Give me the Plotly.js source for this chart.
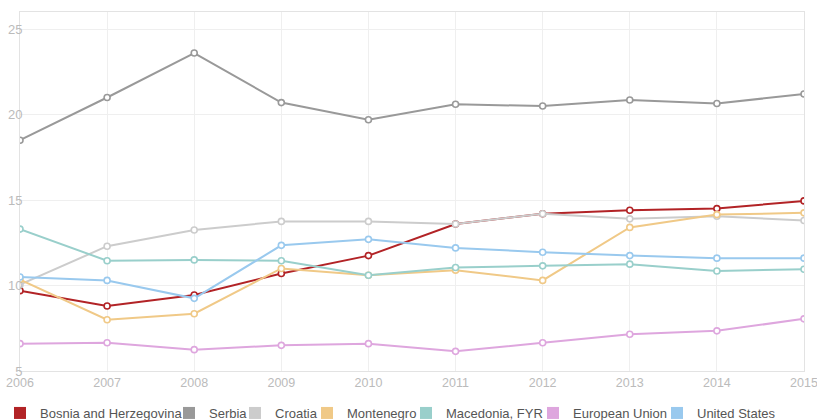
<!DOCTYPE html>
<html>
<head>
<meta charset="utf-8">
<script src="https://cdn.plot.ly/plotly-3.0.1.min.js"></script>
<style>html,body{margin:0;padding:0;background:#fff;}#chart{width:817px;height:420px;}</style>
</head>
<body>
<div id="chart"></div>
<script>
const years = [2006, 2007, 2008, 2009, 2010, 2011, 2012, 2013, 2014, 2015];
const seriesNames = ["Bosnia and Herzegovina", "Serbia", "Croatia", "Montenegro", "Macedonia, FYR", "European Union", "United States"];
const bosnia     = [9.7, 8.8, 9.45, 10.7, 11.75, 13.6, 14.2, 14.4, 14.5, 14.95];
const serbia     = [18.5, 21.0, 23.6, 20.7, 19.7, 20.6, 20.5, 20.85, 20.65, 21.2];
const croatia    = [10.05, 12.3, 13.25, 13.75, 13.75, 13.6, 14.2, 13.9, 14.05, 13.8];
const montenegro = [10.35, 8.0, 8.35, 11.0, 10.6, 10.9, 10.3, 13.4, 14.15, 14.25];
const macedonia  = [13.3, 11.45, 11.5, 11.45, 10.6, 11.05, 11.15, 11.25, 10.85, 10.95];
const eu         = [6.6, 6.65, 6.25, 6.5, 6.6, 6.15, 6.65, 7.15, 7.35, 8.05];
const us         = [10.5, 10.3, 9.25, 12.35, 12.7, 12.2, 11.95, 11.75, 11.6, 11.6];
const yTicks = [5, 10, 15, 20, 25];

const values = [bosnia, serbia, croatia, montenegro, macedonia, eu, us];
const colors = ["#b22326", "#999999", "#cccccc", "#f0c987", "#99cfcb", "#dea6de", "#99c9ee"];
// legend text start positions (px)
const legendTextX = [40, 209, 275, 347, 446, 573, 697];

const traces = [];
values.forEach((v, i) => {
  traces.push({
    x: years, y: v, type: "scatter", mode: "lines+markers",
    name: seriesNames[i], showlegend: false, hoverinfo: "skip",
    line: {color: colors[i], width: 2},
    marker: {symbol: "circle", size: 6, color: "#ffffff", line: {color: colors[i], width: 1.6}}
  });
});
values.forEach((v, i) => {
  traces.push({
    x: [null], y: [null], type: "scatter", mode: "markers",
    name: seriesNames[i], showlegend: true,
    legend: i === 0 ? "legend" : "legend" + (i + 1),
    marker: {symbol: "square", size: 12, color: colors[i]}
  });
});

const W = 817, H = 420;
const FONT = "'Liberation Sans', Arial, sans-serif";
const layout = {
  width: W, height: H,
  margin: {l: 20, r: 13, t: 12, b: 49, pad: 0},
  paper_bgcolor: "#fff", plot_bgcolor: "#fff",
  font: {family: FONT},
  hovermode: false,
  xaxis: {
    range: [2006, 2015], tickvals: years, ticktext: years.map(String),
    showgrid: true, gridcolor: "#efefef", gridwidth: 1,
    showline: true, mirror: true, linecolor: "#e3e3e3", linewidth: 1,
    zeroline: false, ticks: "", tickfont: {size: 12.5, color: "#bbbbbb"},
    ticklabeloverflow: "allow"
  },
  yaxis: {
    range: [5, 26], tickvals: yTicks, ticktext: yTicks.map(String),
    showgrid: true, gridcolor: "#efefef", gridwidth: 1,
    showline: true, mirror: true, linecolor: "#e3e3e3", linewidth: 1,
    zeroline: false, ticks: "", tickfont: {size: 13, color: "#bbbbbb"},
    ticklabelstandoff: -6, ticklabeloverflow: "allow"
  }
};
seriesNames.forEach((n, i) => {
  const key = i === 0 ? "legend" : "legend" + (i + 1);
  layout[key] = {
    xref: "container", yref: "container",
    x: (legendTextX[i] - 40) / W, y: 1 - 413 / H,
    xanchor: "left", yanchor: "middle",
    orientation: "h", bgcolor: "rgba(0,0,0,0)", borderwidth: 0,
    font: {size: 13, color: "#555555", family: FONT}
  };
});

Plotly.newPlot("chart", traces, layout, {displayModeBar: false, staticPlot: true});
</script>
</body>
</html>
